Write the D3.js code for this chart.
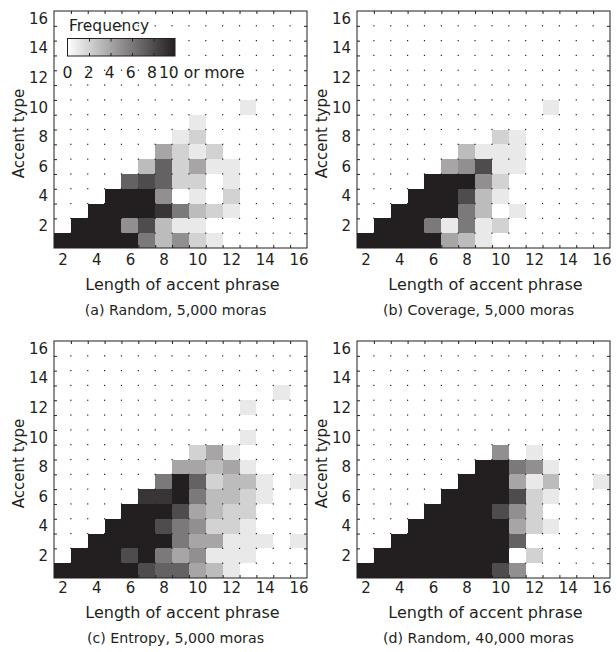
<!DOCTYPE html>
<html>
<head>
<meta charset="utf-8">
<script src="https://cdn.jsdelivr.net/npm/d3@7"></script>
<style>
  body { margin: 0; background: #fff; }
  svg { display: block; }
  text { font-family: "DejaVu Sans", "Liberation Sans", Arial, sans-serif; }
</style>
</head>
<body>
<svg class="chart"></svg>
<script>
// categories
const lengths = d3.range(2, 17);       // length of accent phrase (columns)
const accentTypes = d3.range(1, 17);   // accent type (rows, bottom up)
const axisTicks = [2, 4, 6, 8, 10, 12, 14, 16];
const colorTicks = [0, 2, 4, 6, 8, 10];

// frequency per cell, one row per accent type starting at 1,
// columns are lengths 2..16, 10 means "10 or more"
const randomSmall = [
  [10, 10, 10, 10, 10, 6, 3, 5, 2, 1, 0, 0, 0, 0, 0],
  [0, 10, 10, 10, 5, 8, 3, 1, 1, 0, 0, 0, 0, 0, 0],
  [0, 0, 10, 10, 10, 10, 9, 6, 3, 2, 1, 0, 0, 0, 0],
  [0, 0, 0, 10, 10, 10, 5, 0, 1, 0, 2, 0, 0, 0, 0],
  [0, 0, 0, 0, 7, 8, 7, 2, 2, 0, 1, 0, 0, 0, 0],
  [0, 0, 0, 0, 0, 3, 7, 2, 4, 1, 1, 0, 0, 0, 0],
  [0, 0, 0, 0, 0, 0, 4, 2, 1, 2, 0, 0, 0, 0, 0],
  [0, 0, 0, 0, 0, 0, 0, 1, 2, 0, 0, 0, 0, 0, 0],
  [0, 0, 0, 0, 0, 0, 0, 0, 1, 0, 0, 0, 0, 0, 0],
  [0, 0, 0, 0, 0, 0, 0, 0, 0, 0, 0, 1, 0, 0, 0]
];
const coverageSmall = [
  [10, 10, 10, 10, 10, 4, 3, 1, 0, 0, 0, 0, 0, 0, 0],
  [0, 10, 10, 10, 6, 1, 6, 1, 2, 0, 0, 0, 0, 0, 0],
  [0, 0, 10, 10, 10, 10, 6, 3, 0, 1, 0, 0, 0, 0, 0],
  [0, 0, 0, 10, 10, 10, 8, 3, 1, 0, 0, 0, 0, 0, 0],
  [0, 0, 0, 0, 10, 10, 10, 5, 2, 0, 0, 0, 0, 0, 0],
  [0, 0, 0, 0, 0, 4, 5, 8, 1, 1, 0, 0, 0, 0, 0],
  [0, 0, 0, 0, 0, 0, 3, 1, 1, 1, 0, 0, 0, 0, 0],
  [0, 0, 0, 0, 0, 0, 0, 0, 2, 1, 0, 0, 0, 0, 0],
  [0, 0, 0, 0, 0, 0, 0, 0, 0, 0, 0, 0, 0, 0, 0],
  [0, 0, 0, 0, 0, 0, 0, 0, 0, 0, 0, 1, 0, 0, 0]
];
const entropySmall = [
  [10, 10, 10, 10, 10, 8, 7, 7, 4, 3, 1, 0, 0, 0, 0],
  [0, 10, 10, 10, 8, 10, 6, 4, 5, 1, 1, 1, 0, 0, 0],
  [0, 0, 10, 10, 10, 10, 10, 6, 4, 4, 1, 1, 1, 0, 1],
  [0, 0, 0, 10, 10, 10, 8, 6, 5, 2, 2, 1, 0, 0, 0],
  [0, 0, 0, 0, 10, 10, 10, 8, 4, 3, 2, 2, 0, 0, 0],
  [0, 0, 0, 0, 0, 9, 9, 10, 6, 3, 3, 2, 1, 0, 0],
  [0, 0, 0, 0, 0, 0, 6, 10, 7, 2, 3, 3, 1, 0, 1],
  [0, 0, 0, 0, 0, 0, 0, 4, 4, 3, 4, 1, 0, 0, 0],
  [0, 0, 0, 0, 0, 0, 0, 0, 2, 4, 1, 0, 0, 0, 0],
  [0, 0, 0, 0, 0, 0, 0, 0, 0, 0, 0, 1, 0, 0, 0],
  [0, 0, 0, 0, 0, 0, 0, 0, 0, 0, 0, 0, 0, 0, 0],
  [0, 0, 0, 0, 0, 0, 0, 0, 0, 0, 0, 1, 0, 0, 0],
  [0, 0, 0, 0, 0, 0, 0, 0, 0, 0, 0, 0, 0, 1, 0]
];
const randomLarge = [
  [10, 10, 10, 10, 10, 10, 10, 10, 8, 5, 0, 0, 0, 0, 0],
  [0, 10, 10, 10, 10, 10, 10, 10, 10, 0, 2, 0, 0, 0, 0],
  [0, 0, 10, 10, 10, 10, 10, 10, 10, 7, 0, 0, 0, 0, 0],
  [0, 0, 0, 10, 10, 10, 10, 10, 10, 4, 2, 1, 0, 0, 0],
  [0, 0, 0, 0, 10, 10, 10, 10, 8, 5, 2, 0, 0, 0, 0],
  [0, 0, 0, 0, 0, 10, 10, 10, 10, 8, 2, 1, 0, 0, 0],
  [0, 0, 0, 0, 0, 0, 10, 10, 10, 4, 1, 3, 0, 0, 1],
  [0, 0, 0, 0, 0, 0, 0, 10, 10, 6, 5, 1, 0, 0, 0],
  [0, 0, 0, 0, 0, 0, 0, 0, 5, 0, 1, 0, 0, 0, 0]
];
const titles = [
  "(a) Random, 5,000 moras",
  "(b) Coverage, 5,000 moras",
  "(c) Entropy, 5,000 moras",
  "(d) Random, 40,000 moras"
];

const ink = "#231f20";
const width = 616, height = 652;
const boxW = 253, boxH = 237;
const origins = [[54, 11], [357, 11], [54, 341], [357, 341]];

const svg = d3.select(".chart")
  .attr("width", width)
  .attr("height", height);

const x = d3.scaleLinear().domain([1.5, 16.5]).range([0, boxW]);
const y = d3.scaleLinear().domain([0.5, 16.5]).range([boxH, 0]);
const color = d3.scaleLinear().domain([0, 10]).range(["#ffffff", ink]).clamp(true);

// cell boundaries, used for the dotted grid and the small ticks
const xEdges = d3.range(2.5, 16, 1);
const yEdges = d3.range(1.5, 16, 1);

const panels = [randomSmall, coverageSmall, entropySmall, randomLarge];

panels.forEach((grid, p) => {
  const g = svg.append("g")
    .attr("transform", `translate(${origins[p][0]},${origins[p][1]})`);
  // lower row of panels has its texts sitting a little closer
  const shift = p >= 2 ? -2 : 0;

  const cells = grid.flatMap((row, i) =>
    row.map((v, j) => ({ len: lengths[j], type: accentTypes[i], v })))
    .filter(d => d.v > 0);

  g.append("g").selectAll("rect")
    .data(cells)
    .enter()
    .append("rect")
      .attr("x", d => x(d.len - 0.5))
      .attr("y", d => y(d.type + 0.5))
      .attr("width", d => x(d.len + 0.5) - x(d.len - 0.5))
      .attr("height", d => y(d.type - 0.5) - y(d.type + 0.5))
      .attr("fill", d => color(d.v))
      .attr("shape-rendering", "crispEdges");

  // dotted grid at the cell corners
  const dots = xEdges.flatMap(a => yEdges.map(b => [a, b]));
  g.append("g").selectAll("rect")
    .data(dots)
    .enter()
    .append("rect")
      .attr("x", d => x(d[0]) - 0.6)
      .attr("y", d => y(d[1]) - 0.6)
      .attr("width", 1.2)
      .attr("height", 1.2)
      .attr("fill", ink);

  // inward ticks on all four sides
  const edgeAxes = [
    [d3.axisBottom(x).tickValues(xEdges), `translate(0,${boxH})`],
    [d3.axisTop(x).tickValues(xEdges), "translate(0,0)"],
    [d3.axisLeft(y).tickValues(yEdges), "translate(0,0)"],
    [d3.axisRight(y).tickValues(yEdges), `translate(${boxW},0)`]
  ];
  edgeAxes.forEach(([ax, tr]) => {
    g.append("g")
      .attr("transform", tr)
      .attr("color", ink)
      .call(ax.tickSize(-3).tickFormat(""))
      .call(s => s.select(".domain").remove());
  });

  g.append("rect")
    .attr("width", boxW)
    .attr("height", boxH)
    .attr("fill", "none")
    .attr("stroke", ink)
    .attr("stroke-width", 1);

  // tick labels
  g.append("g")
    .attr("transform", `translate(0,${boxH + shift})`)
    .attr("color", ink)
    .call(d3.axisBottom(x).tickValues(axisTicks).tickSize(0).tickPadding(6.5))
    .call(s => s.select(".domain").remove())
    .attr("font-size", 15)
    .attr("font-family", null);

  g.append("g")
    .attr("color", ink)
    .call(d3.axisLeft(y).tickValues(axisTicks).tickSize(0).tickPadding(6))
    .call(s => s.select(".domain").remove())
    .attr("font-size", 15)
    .attr("font-family", null);

  g.append("text")
    .attr("x", boxW / 2 + 2)
    .attr("y", boxH + 42 + shift)
    .attr("text-anchor", "middle")
    .attr("font-size", 16)
    .attr("fill", ink)
    .text("Length of accent phrase");

  g.append("text")
    .attr("transform", `translate(-30,${boxH / 2 + 4}) rotate(-90)`)
    .attr("text-anchor", "middle")
    .attr("font-size", 15)
    .attr("fill", ink)
    .text("Accent type");

  g.append("text")
    .attr("x", boxW / 2 - 5)
    .attr("y", boxH + 67 + shift)
    .attr("text-anchor", "middle")
    .attr("font-size", 14.2)
    .attr("fill", ink)
    .text(titles[p]);

  // colour bar legend in the first panel only
  if (p === 0) {
    const cbW = 107.5, cbH = 17.5;
    const cb = g.append("g").attr("transform", "translate(13.5,27.5)");
    const cbx = d3.scaleLinear().domain([0, 10]).range([0, cbW]);

    const grad = svg.append("defs").append("linearGradient")
      .attr("id", "freqGrad");
    grad.selectAll("stop")
      .data(colorTicks)
      .enter()
      .append("stop")
        .attr("offset", d => d / 10)
        .attr("stop-color", d => color(d));

    cb.append("rect")
      .attr("width", cbW)
      .attr("height", cbH)
      .attr("fill", "url(#freqGrad)")
      .attr("stroke", ink);

    const inner = colorTicks.slice(1, -1);
    cb.append("g")
      .attr("color", ink)
      .call(d3.axisTop(cbx).tickValues(inner).tickSize(-3).tickFormat(""))
      .call(s => s.select(".domain").remove());
    cb.append("g")
      .attr("transform", `translate(0,${cbH})`)
      .attr("color", ink)
      .call(d3.axisBottom(cbx).tickValues(inner).tickSize(-3).tickFormat(""))
      .call(s => s.select(".domain").remove());

    cb.append("text")
      .attr("x", 1.5)
      .attr("y", -8)
      .attr("font-size", 15.5)
      .attr("fill", ink)
      .text("Frequency");

    cb.selectAll(".cblabel")
      .data(colorTicks)
      .enter()
      .append("text")
        .attr("class", "cblabel")
        .attr("x", d => d === 10 ? cbx(d) - 16 : cbx(d) - d * 0.2)
        .attr("y", cbH + 21.5)
        .attr("text-anchor", d => d === 10 ? "start" : "middle")
        .attr("font-size", 15.5)
        .attr("fill", ink)
        .text(d => d === 10 ? "10 or more" : d);
  }
});
</script>
</body>
</html>
